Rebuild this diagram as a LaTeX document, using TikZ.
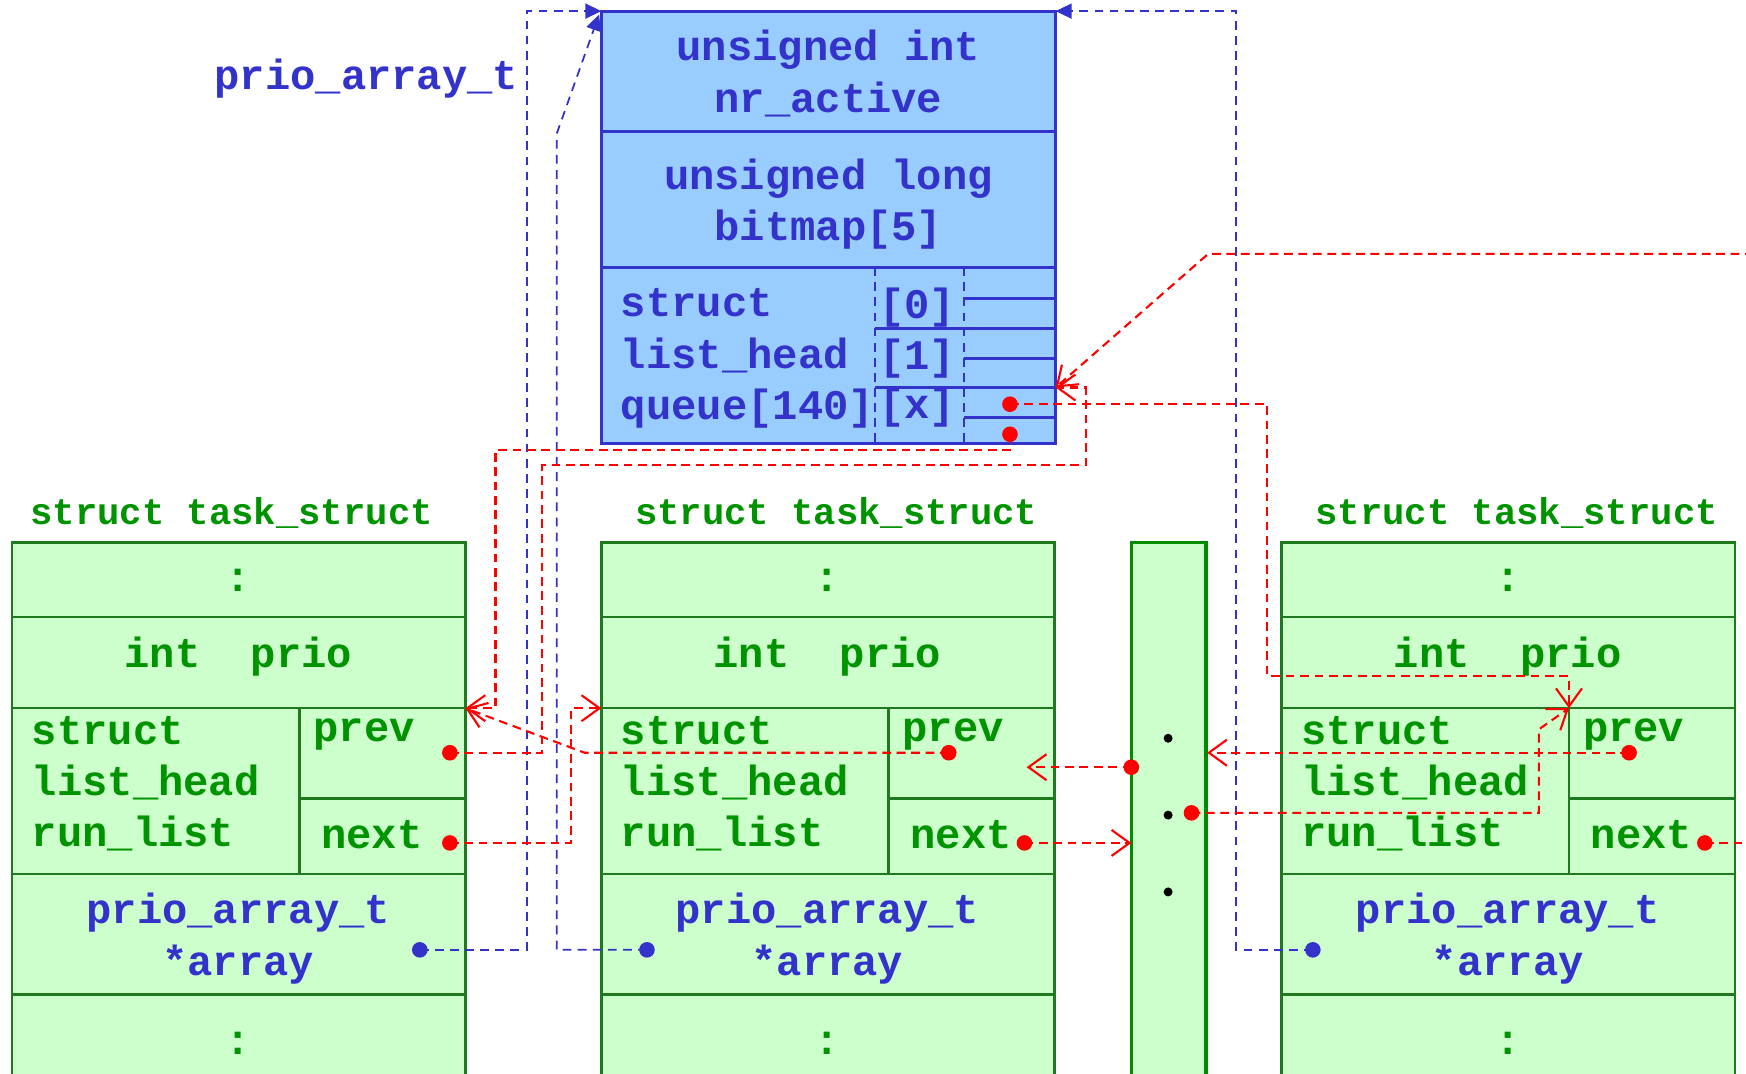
\documentclass[tikz,border=0pt]{standalone}
\usepackage{fontspec}
\setmonofont{Liberation Mono}
\usetikzlibrary{arrows.meta}
\definecolor{qblue}{HTML}{3333CC}
\definecolor{qfill}{HTML}{99CCFF}
\definecolor{tgreen}{HTML}{009300}
\definecolor{tedge}{HTML}{1F7A1F}
\definecolor{tfill}{HTML}{CCFFCC}
\tikzset{
  code/.style={inner sep=0pt,font=\fontsize{12}{14.6}\selectfont\ttfamily\bfseries},
  title/.style={inner sep=0pt,text=tgreen,font=\fontsize{10.6}{12}\selectfont\ttfamily\bfseries},
  qbox/.style={draw=qblue,line width=0.9pt,fill=qfill},
  tbox/.style={draw=tedge,line width=0.7pt,fill=tfill},
  redlink/.style={red,line width=0.6pt,dash pattern=on 2.5pt off 1.6pt,
    -{Straight Barb[length=1.8mm,width=2.6mm]}},
  bluelink/.style={qblue,line width=0.5pt,dash pattern=on 2.5pt off 1.8pt,
    -{Triangle[length=1.6mm,width=1.5mm]}},
}
\begin{document}
\begin{tikzpicture}[x=0.011135cm,y=-0.011135cm]
  \clip (0,0) rectangle (1568,964);
  % the prio_array_t structure
  \draw[qbox] (540,10) rectangle (948,398);
  \draw[qblue,line width=0.9pt] (540,118) -- (948,118) (540,240) -- (948,240);
  \draw[qblue,line width=0.5pt,dash pattern=on 2.5pt off 1.8pt] (786,240) -- (786,398) (866,240) -- (866,398);
  \draw[qblue,line width=0.9pt] (786,295) -- (948,295) (786,348) -- (948,348);
  \foreach \y in {268,322,375} {
    \draw[qblue,line width=0.9pt] (866,\y) -- (948,\y);
  }
  \node[code,text=qblue,anchor=east] (pa-name) at (466,71) {prio\_array\_t};
  \node[code,text=qblue,align=center] (nr-active) at (744,66) {unsigned int\\nr\_active};
  \node[code,text=qblue,align=center] (bitmap) at (744,183) {unsigned long\\bitmap[5]};
  \node[code,text=qblue,align=left,anchor=west] (queue) at (557,322) {struct\\list\_head\\queue[140]};
  \foreach \y/\i in {276/0, 322/1, 366/x} {
    \node[code,text=qblue,anchor=west] (idx-\i) at (789,\y) {[\i]};
  }
  \coordinate (q-nw) at (540,10);
  \coordinate (q-ne) at (948,10);
  \coordinate (q-x) at (948,348);
  \coordinate (q-first) at (907,363);
  \coordinate (q-last) at (907,390);

  % three task_structs
  \foreach \x/\n/\t in {11/l/197, 540/m/211, 1151/r/211} {
    \draw[tbox] (\x,487) rectangle ++(407,500);
    \draw[tedge,line width=0.7pt] (\x,554) -- ++(407,0) (\x,636) -- ++(407,0)
      (\x,785) -- ++(407,0) (\x,893) -- ++(407,0)
      (\x+258,636) -- (\x+258,785) (\x+258,717) -- (\x+407,717);
    \node[title] (\n-title) at (\x+\t,461) {struct task\_struct};
    \node[code,text=tgreen] (\n-top) at (\x+203,521) {:};
    \node[code,text=tgreen] (\n-prio) at (\x+203,590) {int\ \ prio};
    \node[code,text=tgreen,align=left,anchor=west] (\n-run) at (\x+17,704) {struct\\list\_head\\run\_list};
    \node[code,text=tgreen,anchor=west] (\n-prevtxt) at (\x+270,660) {prev};
    \node[code,text=tgreen,anchor=west] (\n-nexttxt) at (\x+277,750) {next};
    \node[code,text=qblue,align=center] (\n-array) at (\x+203,843) {prio\_array\_t\\*array};
    \node[code,text=tgreen] (\n-bottom) at (\x+203,937) {:};
    \coordinate (\n-nw) at (\x,636);
    \coordinate (\n-ne) at (\x+407,636);
    \coordinate (\n-pn) at (\x+258,636);
  }

  % the rest of the list
  \draw[draw=green!55!black,line width=0.9pt,fill=tfill] (1016,487) rectangle (1083,990);
  \foreach \y in {663,732,801} {
    \fill (1049,\y) circle (0.045cm);
  }
  \coordinate (c-in) at (1016,689);
  \coordinate (c-out) at (1070,730);
  \coordinate (c-w) at (1016,757);
  \coordinate (c-e) at (1084,676);
  \coordinate (m-pe) at (922,689);

  \coordinate (l-prev) at (404,676);
  \coordinate (l-next) at (404,757);
  \coordinate (m-prev) at (852,676);
  \coordinate (m-next) at (920,757);
  \coordinate (r-prev) at (1463,676);
  \coordinate (r-next) at (1531,757);
  \coordinate (l-arr) at (377,853);
  \coordinate (m-arr) at (581,853);
  \coordinate (r-arr) at (1179,853);
  \coordinate (far-in) at (1575,228);
  \coordinate (far-out) at (1575,757);

  % array pointers
  \draw[bluelink] (l-arr) -| (473,10) -- (q-nw);
  \draw[bluelink] (m-arr) -| (500,120) -- ([shift={(-2,3)}]q-nw);
  \draw[bluelink] (r-arr) -| (1110,10) -- (q-ne);

  % run list links
  \draw[redlink] (q-last) -- (907,404) -| (445,636) -- (l-ne);
  \draw[redlink] (q-first) -| (1138,607) -| (r-pn);
  \draw[redlink] (far-in) -- (1085,228) -- (q-x);
  \draw[redlink] (l-prev) -| (487,418) -| (975,348) -- (q-x);
  \draw[redlink] (l-next) -| (513,636) -- (m-nw);
  \draw[redlink] (m-prev) -- (525,676) -- (l-ne);
  \draw[redlink] (m-next) -- (c-w);
  \draw[redlink] (c-in) -- (m-pe);
  \draw[redlink] (c-out) -| (1382,655) -- (r-pn);
  \draw[redlink] (r-prev) -- (c-e);
  \draw[redlink,-] (r-next) -- (far-out);

  \foreach \p in {q-first,q-last,l-prev,l-next,m-prev,m-next,r-prev,r-next,c-in,c-out} {
    \fill[red] (\p) circle (0.078cm);
  }
  \foreach \p in {l-arr,m-arr,r-arr} {
    \fill[qblue] (\p) circle (0.078cm);
  }
\end{tikzpicture}
\end{document}
